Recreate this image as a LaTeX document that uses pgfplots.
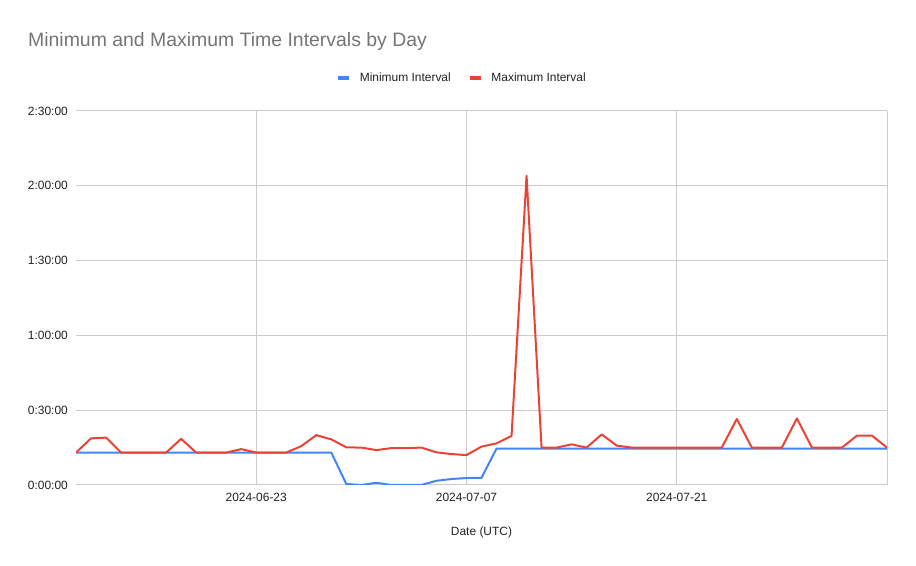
\documentclass[border=0pt]{standalone}
\usepackage{fontspec}
\setmainfont{Liberation Sans}
\usepackage{pgfplots}
\pgfplotsset{compat=1.18}
\definecolor{gblue}{HTML}{4285F4}
\definecolor{gred}{HTML}{EA4335}
\definecolor{ggrid}{HTML}{CCCCCC}
\definecolor{gtitle}{HTML}{757575}
\definecolor{glabel}{HTML}{222222}
\begin{document}
\begin{tikzpicture}
\path[use as bounding box] (0bp,0bp) rectangle (916bp,566bp);
\node[anchor=base west, text=gtitle, font=\fontsize{19.5}{23}\selectfont, inner sep=0pt] at (28bp,519bp) {Minimum and Maximum Time Intervals by Day};
\begin{axis}[
  at={(76bp,81bp)}, anchor=south west,
  scale only axis, width=811bp, height=374bp,
  xmin=0, xmax=54, ymin=0, ymax=150,
  axis line style={draw=none},
  xtick={12,26,40}, xticklabels={2024-06-23,2024-07-07,2024-07-21},
  extra x ticks={54}, extra x tick labels={},
  extra x tick style={grid=major},
  ytick={0,30,60,90,120,150},
  yticklabels={0:00:00,0:30:00,1:00:00,1:30:00,2:00:00,2:30:00},
  grid=major, grid style={ggrid, line width=1bp},
  major tick length=0pt,
  tick label style={font=\fontsize{12}{14}\selectfont, text=glabel},
  xticklabel style={inner sep=0pt, anchor=north, yshift=-8bp},
  yticklabel style={inner sep=0pt, anchor=east, xshift=-8bp},
  xlabel={Date (UTC)},
  xlabel style={at={(axis description cs:0.5,-0.1257)}, anchor=center, font=\fontsize{12}{14}\selectfont, text=glabel},
  legend columns=2,
  legend style={at={(axis description cs:0.3206,1.088)}, anchor=west, draw=none, fill=none, inner sep=0pt,
    font=\fontsize{12}{14}\selectfont, text=glabel, nodes={inner sep=0pt},
    /tikz/every odd column/.append style={column sep=9bp},
    /tikz/every even column/.append style={column sep=17bp}},
  legend image code/.code={\draw[line width=3.6bp] (0bp,0bp) -- (11bp,0bp);},
]
\addplot[gblue, line width=2bp, line join=round] coordinates {
(0,13) (1,13) (2,13) (3,13) (4,13) (5,13) (6,13) (7,13) (8,13) (9,13)
(10,13) (11,13) (12,13) (13,13) (14,13) (15,13) (16,13) (17,13) (18,0.4) (19,0)
(20,0.9) (21,0) (22,0) (23,0) (24,1.7) (25,2.4) (26,2.8) (27,2.9) (28,14.6) (29,14.6)
(30,14.6) (31,14.6) (32,14.6) (33,14.6) (34,14.6) (35,14.6) (36,14.6) (37,14.6) (38,14.6) (39,14.6)
(40,14.6) (41,14.6) (42,14.6) (43,14.6) (44,14.6) (45,14.6) (46,14.6) (47,14.6) (48,14.6) (49,14.6)
(50,14.6) (51,14.6) (52,14.6) (53,14.6) (54,14.6)
};
\addlegendentry{Minimum Interval}
\addplot[gred, line width=2bp, line join=round] coordinates {
(0,13) (1,18.7) (2,19) (3,13) (4,13) (5,13) (6,13) (7,18.5) (8,13) (9,13)
(10,13) (11,14.4) (12,13) (13,13) (14,13) (15,15.6) (16,20) (17,18.3) (18,15.1) (19,15)
(20,14) (21,14.8) (22,14.8) (23,15) (24,13.1) (25,12.4) (26,12) (27,15.4) (28,16.7) (29,19.7)
(30,124) (31,15) (32,15) (33,16.3) (34,15) (35,20.3) (36,15.8) (37,15) (38,15) (39,15)
(40,15) (41,15) (42,15) (43,15) (44,26.5) (45,15) (46,15) (47,15) (48,26.7) (49,15)
(50,15) (51,15) (52,19.8) (53,19.8) (54,15)
};
\addlegendentry{Maximum Interval}
\end{axis}
\end{tikzpicture}
\end{document}
